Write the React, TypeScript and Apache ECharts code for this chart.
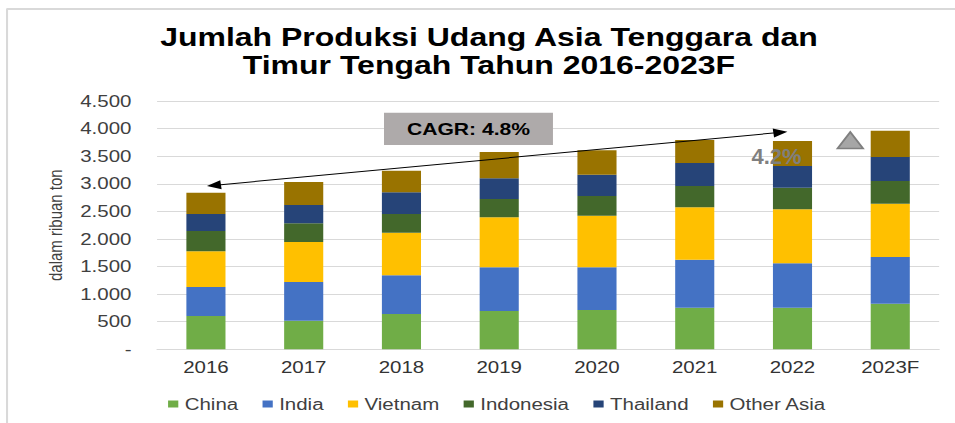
import React, { useEffect, useRef } from "react";
import * as echarts from "echarts";

// ---- data (ribuan ton) ----
const categories = ["2016", "2017", "2018", "2019", "2020", "2021", "2022", "2023F"];
const china = [603, 518, 640, 694, 712, 754, 754, 826];
const india = [526, 701, 701, 792, 774, 870, 804, 846];
const vietnam = [647, 725, 772, 906, 935, 949, 979, 966];
const indonesia = [368, 339, 339, 331, 357, 386, 391, 412];
const thailand = [308, 332, 393, 375, 386, 417, 393, 434];
const otherAsia = [386, 416, 392, 477, 442, 417, 454, 477];
const seriesNames = ["China", "India", "Vietnam", "Indonesia", "Thailand", "Other Asia"];
const yTickLabels = ["-", "500", "1.000", "1.500", "2.000", "2.500", "3.000", "3.500", "4.000", "4.500"];
const yInterval = 500;
const yMax = 4500;
// annotation anchors
const arrowStart: [string, number] = ["2016", 2960];
const arrowEnd: [string, number] = ["2022", 3943];
const cagrText = "CAGR: 4.8%";
const growthText = "4.2%";

const colors = ["#70AD47", "#4472C4", "#FFC000", "#43682B", "#264478", "#997300"];
const FONT = "'Liberation Sans', Arial, sans-serif";

const S = 1.28; // horizontal stretch of the reference picture
const W = 955 / S;
const H = 423;

export default function App() {
  const ref = useRef<HTMLDivElement>(null);

  useEffect(() => {
    if (!ref.current) return;
    const chart = echarts.init(ref.current, null, { renderer: "svg", width: W, height: H });
    const values = [china, india, vietnam, indonesia, thailand, otherAsia];

    const option: any = {
      animation: false,
      color: colors,
      title: {
        text: "Jumlah Produksi Udang Asia Tenggara dan\nTimur Tengah Tahun 2016-2023F",
        left: 377,
        top: 18,
        textAlign: "center",
        textStyle: {
          fontFamily: FONT,
          fontSize: 25,
          fontWeight: "bold",
          color: "#000",
          lineHeight: 28,
        },
      },
      legend: {
        data: seriesNames,
        left: 126.3,
        top: 391,
        itemWidth: 8,
        itemHeight: 7,
        itemGap: 19,
        icon: "rect",
        textStyle: { fontFamily: FONT, fontSize: 16, color: "#404040" },
      },
      grid: { left: 122.7, top: 101, width: 611, height: 248.3, containLabel: false },
      xAxis: {
        type: "category",
        data: categories,
        axisLine: { show: true, lineStyle: { color: "#D9D9D9", width: 1 } },
        axisTick: { show: false },
        axisLabel: { fontFamily: FONT, fontSize: 16, color: "#333", margin: 10 },
      },
      yAxis: {
        type: "value",
        min: 0,
        max: yMax,
        interval: yInterval,
        name: "dalam ribuan ton",
        nameLocation: "middle",
        nameRotate: 90,
        nameGap: 72,
        nameTextStyle: { fontFamily: FONT, fontSize: 15, color: "#404040" },
        axisLine: { show: false },
        axisTick: { show: false },
        splitLine: { lineStyle: { color: "#D9D9D9", width: 1 } },
        axisLabel: {
          fontFamily: FONT,
          fontSize: 16,
          color: "#404040",
          margin: 20,
          formatter: (v: number) => yTickLabels[Math.round(v / yInterval)] ?? String(v),
        },
      },
      series: seriesNames.map((name, i) => ({
        name,
        type: "bar",
        stack: "total",
        barWidth: "40%",
        data: values[i],
        itemStyle: { color: colors[i] },
        emphasis: { disabled: true },
      })),
      graphic: [
        { type: "line", z: 100, shape: { x1: 5.5, y1: 9, x2: 5.5, y2: H }, style: { stroke: "#D9D9D9", lineWidth: 1.6 } },
        { type: "line", z: 100, shape: { x1: 5, y1: 9, x2: W, y2: 9 }, style: { stroke: "#D9D9D9", lineWidth: 2 } },
        {
          type: "rect",
          z: 100,
          shape: { x: 300, y: 112.7, width: 132, height: 32.3 },
          style: { fill: "#AEAAAA" },
        },
        {
          type: "text",
          z: 101,
          x: 366,
          y: 129,
          style: {
            text: cagrText,
            fontFamily: FONT,
            fontSize: 16.5,
            fontWeight: "bold",
            fill: "#000",
            textAlign: "center",
            textVerticalAlign: "middle",
          },
        },
        {
          type: "text",
          z: 101,
          x: 606.6,
          y: 156,
          scaleX: 1 / S,
          style: {
            text: growthText,
            fontFamily: FONT,
            fontSize: 22,
            fontWeight: "bold",
            fill: "#7F7F7F",
            textAlign: "center",
            textVerticalAlign: "middle",
          },
        },
        {
          type: "polygon",
          z: 101,
          shape: { points: [[664.3, 132], [654.3, 148.5], [674.3, 148.5]] },
          style: { fill: "#A6A6A6", stroke: "#7F7F7F", lineWidth: 1.5 },
        },
      ],
    };
    chart.setOption(option);

    // arrow from library coordinates
    const p1 = chart.convertToPixel({ gridIndex: 0 }, arrowStart) as number[];
    const p2 = chart.convertToPixel({ gridIndex: 0 }, arrowEnd) as number[];
    const tipL = [p1[0] + 0.8, p1[1]];
    const tipR = [p2[0] - 4, p2[1]];
    const dx = tipR[0] - tipL[0];
    const dy = tipR[1] - tipL[1];
    const len = Math.sqrt(dx * dx + dy * dy);
    const ux = dx / len, uy = dy / len;
    const nx = -uy, ny = ux;
    const L = 11, w = 4.5;
    const headL = [
      tipL,
      [tipL[0] + ux * L + nx * w, tipL[1] + uy * L + ny * w],
      [tipL[0] + ux * L - nx * w, tipL[1] + uy * L - ny * w],
    ];
    const headR = [
      tipR,
      [tipR[0] - ux * L + nx * w, tipR[1] - uy * L + ny * w],
      [tipR[0] - ux * L - nx * w, tipR[1] - uy * L - ny * w],
    ];
    chart.setOption({
      graphic: [
        ...option.graphic,
        {
          type: "line",
          z: 102,
          shape: {
            x1: tipL[0] + ux * L * 0.8,
            y1: tipL[1] + uy * L * 0.8,
            x2: tipR[0] - ux * L * 0.8,
            y2: tipR[1] - uy * L * 0.8,
          },
          style: { stroke: "#000", lineWidth: 1 },
        },
        { type: "polygon", z: 102, shape: { points: headL }, style: { fill: "#000" } },
        { type: "polygon", z: 102, shape: { points: headR }, style: { fill: "#000" } },
      ],
    });

    return () => chart.dispose();
  }, []);

  return (
    <div
      ref={ref}
      style={{
        position: "absolute",
        left: 0,
        top: 0,
        width: W,
        height: H,
        transform: `scaleX(${S})`,
        transformOrigin: "0 0",
        background: "#fff",
      }}
    />
  );
}
